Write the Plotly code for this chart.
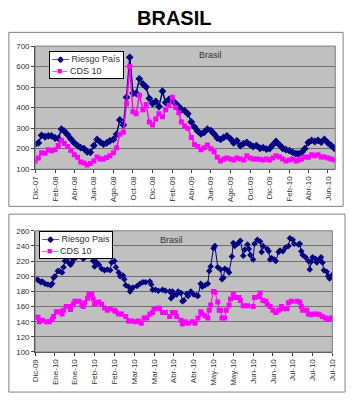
import plotly.graph_objects as go

# ---------------- data: top chart (Dic-07 .. Jun-10, three readings per month) ----------------
top_months = [(2007, 12)] + [(y, m) for y in (2008, 2009) for m in range(1, 13)] + [(2010, m) for m in range(1, 7)]
top_days = [1, 11, 21]
top_dates = [f"{y}-{m:02d}-{d:02d}" for (y, m) in top_months for d in top_days]

top_riesgo = [222, 228, 265, 258, 262, 262, 252, 250, 295, 285,
              268, 248, 228, 215, 205, 200, 185, 182, 215, 245,
              232, 222, 228, 238, 245, 270, 340, 315, 450, 645,
              470, 470, 540, 515, 500, 445, 420, 430, 405, 480,
              425, 440, 435, 420, 405, 390, 385, 370, 330, 305,
              285, 272, 280, 295, 288, 272, 252, 245, 255, 262,
              248, 228, 238, 215, 225, 230, 220, 210, 215, 202,
              205, 198, 200, 218, 235, 218, 202, 195, 190, 182,
              176, 175, 182, 200, 230, 240, 235, 240, 232, 245,
              228, 215, 202]
top_cds = [140, 155, 180, 178, 195, 190, 195, 215, 240, 225,
           210, 192, 170, 158, 135, 130, 120, 128, 140, 160,
           150, 150, 157, 165, 180, 205, 270, 280, 420, 600,
           380, 370, 460, 390, 415, 330, 315, 345, 370, 355,
           390, 410, 450, 400, 375, 330, 310, 300, 255, 220,
           210, 195, 205, 218, 200, 185, 158, 140, 150, 155,
           150, 145, 155, 150, 145, 165, 155, 150, 150, 148,
           145, 150, 145, 155, 165, 160, 150, 140, 145, 150,
           140, 145, 150, 160, 158, 170, 165, 170, 160, 160,
           155, 150, 145]

top_tickvals = ["2007-12-01", "2008-02-01", "2008-04-01", "2008-06-01", "2008-08-01", "2008-10-01",
                "2008-12-01", "2009-02-01", "2009-04-01", "2009-06-01", "2009-08-01", "2009-10-01",
                "2009-12-01", "2010-02-01", "2010-04-01", "2010-06-01"]
top_ticktext = ["Dic-07", "Feb-08", "Abr-08", "Jun-08", "Ago-08", "Oct-08", "Dic-08", "Feb-09",
                "Abr-09", "Jun-09", "Ago-09", "Oct-09", "Dic-09", "Feb-10", "Abr-10", "Jun-10"]

# ---------------- data: bottom chart (Dic-09 .. Jul-10) ----------------
bot_riesgo_dates = [
    "2009-12-31", "2010-01-02", "2010-01-04", "2010-01-05", "2010-01-07", "2010-01-09", "2010-01-11",
    "2010-01-12", "2010-01-13", "2010-01-14", "2010-01-16", "2010-01-17", "2010-01-19", "2010-01-20",
    "2010-01-21", "2010-01-23", "2010-01-25", "2010-01-26", "2010-01-27", "2010-01-29", "2010-01-31",
    "2010-02-03", "2010-02-05", "2010-02-07", "2010-02-10", "2010-02-11", "2010-02-12", "2010-02-14",
    "2010-02-16", "2010-02-18", "2010-02-20", "2010-02-22", "2010-02-23", "2010-02-25", "2010-02-26",
    "2010-02-28", "2010-03-01", "2010-03-03", "2010-03-04", "2010-03-05", "2010-03-07", "2010-03-08",
    "2010-03-09", "2010-03-10", "2010-03-13", "2010-03-15", "2010-03-17", "2010-03-19", "2010-03-22",
    "2010-03-23", "2010-03-24", "2010-03-26", "2010-03-28", "2010-03-31", "2010-04-02", "2010-04-05",
    "2010-04-06", "2010-04-07", "2010-04-08", "2010-04-10", "2010-04-11", "2010-04-13", "2010-04-14",
    "2010-04-15", "2010-04-17", "2010-04-18", "2010-04-20", "2010-04-22", "2010-04-24", "2010-04-25",
    "2010-04-27", "2010-04-28", "2010-04-30", "2010-05-02", "2010-05-03", "2010-05-04", "2010-05-06",
    "2010-05-07", "2010-05-09", "2010-05-11", "2010-05-12", "2010-05-13", "2010-05-14", "2010-05-16",
    "2010-05-17", "2010-05-19", "2010-05-20", "2010-05-21", "2010-05-23", "2010-05-25", "2010-05-27",
    "2010-05-28", "2010-05-30", "2010-05-31", "2010-06-01", "2010-06-03", "2010-06-04", "2010-06-06",
    "2010-06-08", "2010-06-09", "2010-06-10", "2010-06-13", "2010-06-14", "2010-06-15", "2010-06-16",
    "2010-06-18", "2010-06-19", "2010-06-21", "2010-06-22", "2010-06-24", "2010-06-26", "2010-06-28",
    "2010-06-29", "2010-07-01", "2010-07-02", "2010-07-05", "2010-07-06", "2010-07-07", "2010-07-08",
    "2010-07-10", "2010-07-12", "2010-07-13", "2010-07-14", "2010-07-15", "2010-07-17", "2010-07-18",
    "2010-07-20", "2010-07-21", "2010-07-22", "2010-07-23", "2010-07-25", "2010-07-26", "2010-07-27",
    "2010-07-29"]
bot_riesgo = [
    196, 195, 192, 193, 190, 189, 188,
    190, 198, 200, 207, 207, 205, 212,
    220, 219, 215, 218, 222, 225, 228,
    223, 228, 230, 220, 213, 219, 215,
    210, 208, 209, 208, 218, 220, 212,
    205, 200, 201, 196, 188, 186, 180,
    183, 185, 187, 190, 192, 192, 193,
    189, 182, 182, 181, 182, 181, 180,
    171, 180, 175, 176, 180, 178, 167,
    168, 177, 174, 180, 176, 175, 174,
    190, 186, 188, 190, 207, 213, 237,
    240, 212, 209, 196, 198, 210, 208,
    205, 226, 244, 240, 243, 247, 227,
    235, 242, 236, 228, 222, 243, 248,
    246, 232, 240, 236, 233, 222, 224,
    222, 220, 232, 234, 233, 238, 240,
    250, 248, 243, 242, 243, 233, 228,
    225, 220, 209, 219, 225, 223, 218,
    222, 225, 218, 208, 206, 200, 197,
    202]

bot_cds_dates = [
    "2009-12-31", "2010-01-02", "2010-01-03", "2010-01-05", "2010-01-08", "2010-01-10", "2010-01-12",
    "2010-01-13", "2010-01-15", "2010-01-18", "2010-01-19", "2010-01-20", "2010-01-22", "2010-01-24",
    "2010-01-25", "2010-01-27", "2010-01-28", "2010-01-31", "2010-02-02", "2010-02-03", "2010-02-04",
    "2010-02-06", "2010-02-07", "2010-02-09", "2010-02-10", "2010-02-11", "2010-02-12", "2010-02-14",
    "2010-02-16", "2010-02-18", "2010-02-20", "2010-02-22", "2010-02-25", "2010-02-26", "2010-02-28",
    "2010-03-02", "2010-03-05", "2010-03-07", "2010-03-09", "2010-03-12", "2010-03-14", "2010-03-16",
    "2010-03-18", "2010-03-20", "2010-03-22", "2010-03-24", "2010-03-25", "2010-03-28", "2010-03-29",
    "2010-03-31", "2010-04-02", "2010-04-05", "2010-04-07", "2010-04-09", "2010-04-10", "2010-04-13",
    "2010-04-14", "2010-04-16", "2010-04-18", "2010-04-21", "2010-04-23", "2010-04-25", "2010-04-27",
    "2010-04-28", "2010-04-30", "2010-05-02", "2010-05-03", "2010-05-04", "2010-05-06", "2010-05-07",
    "2010-05-09", "2010-05-10", "2010-05-11", "2010-05-12", "2010-05-14", "2010-05-15", "2010-05-17",
    "2010-05-18", "2010-05-20", "2010-05-21", "2010-05-24", "2010-05-25", "2010-05-27", "2010-05-30",
    "2010-06-03", "2010-06-04", "2010-06-07", "2010-06-08", "2010-06-10", "2010-06-12", "2010-06-13",
    "2010-06-15", "2010-06-17", "2010-06-19", "2010-06-21", "2010-06-23", "2010-06-24", "2010-06-27",
    "2010-06-28", "2010-06-30", "2010-07-04", "2010-07-06", "2010-07-07", "2010-07-08", "2010-07-11",
    "2010-07-12", "2010-07-14", "2010-07-16", "2010-07-18", "2010-07-20", "2010-07-22", "2010-07-24",
    "2010-07-26", "2010-07-28", "2010-07-29"]
bot_cds = [
    146, 146, 140, 142, 140, 140, 143,
    147, 153, 153, 150, 155, 160, 160,
    156, 163, 167, 167, 162, 160, 165,
    171, 176, 177, 170, 163, 165, 166,
    163, 158, 155, 157, 155, 153, 150,
    150, 147, 141, 141, 140, 141, 138,
    145, 145, 150, 152, 157, 158, 157,
    152, 152, 147, 152, 152, 147, 142,
    137, 140, 138, 140, 138, 145, 153,
    150, 148, 145, 155, 162, 180, 179,
    166, 155, 155, 145, 145, 155, 162,
    170, 177, 172, 172, 168, 161, 161,
    160, 172, 173, 178, 168, 167, 163,
    160, 155, 152, 155, 160, 157, 157,
    165, 167, 167, 166, 160, 155, 155,
    150, 149, 150, 150, 149, 147, 145,
    143, 145, 145]

bot_tickvals = ["2009-12-31", "2010-01-14", "2010-01-28", "2010-02-11", "2010-02-25", "2010-03-11",
                "2010-03-25", "2010-04-08", "2010-04-22", "2010-05-06", "2010-05-20", "2010-06-03",
                "2010-06-17", "2010-07-01", "2010-07-15", "2010-07-29"]
bot_ticktext = ["Dic-09", "Ene-10", "Ene-10", "Feb-10", "Feb-10", "Mar-10", "Mar-10", "Abr-10",
                "Abr-10", "May-10", "May-10", "Jun-10", "Jun-10", "Jul-10", "Jul-10", "Jul-10"]

series_names = ["Riesgo País", "CDS 10"]
series_names_bottom = ["Riesgo Pais", "CDS 10"]

# ---------------- styling ----------------
NAVY = "#000080"
MAGENTA = "#FF00FF"
FONT = "Liberation Sans, Arial, sans-serif"
W, H = 352, 400

fig = go.Figure()

fig.add_trace(go.Scatter(x=top_dates, y=top_riesgo, name=series_names[0], mode="lines+markers",
                         line=dict(color=NAVY, width=1.5), marker=dict(symbol="diamond", size=6, color=NAVY),
                         xaxis="x", yaxis="y"))
fig.add_trace(go.Scatter(x=top_dates, y=top_cds, name=series_names[1], mode="lines+markers",
                         line=dict(color=MAGENTA, width=1.5), marker=dict(symbol="square", size=5, color=MAGENTA),
                         xaxis="x", yaxis="y"))
fig.add_trace(go.Scatter(x=bot_riesgo_dates, y=bot_riesgo, name=series_names_bottom[0], mode="lines+markers",
                         line=dict(color=NAVY, width=1), marker=dict(symbol="diamond", size=5, color=NAVY),
                         xaxis="x2", yaxis="y2"))
fig.add_trace(go.Scatter(x=bot_cds_dates, y=bot_cds, name=series_names_bottom[1], mode="lines+markers",
                         line=dict(color=MAGENTA, width=1), marker=dict(symbol="square", size=5, color=MAGENTA),
                         xaxis="x2", yaxis="y2"))

axis_common = dict(showline=True, linecolor="#404040", linewidth=1, ticks="outside", ticklen=3,
                   tickcolor="#404040", tickfont=dict(family=FONT, size=8, color="#333333"), zeroline=False)

fig.update_layout(
    width=W, height=H, margin=dict(l=0, r=0, t=0, b=0),
    paper_bgcolor="white", plot_bgcolor="#C0C0C0",
    font=dict(family=FONT, size=8, color="#333333"),
    showlegend=False,
    xaxis=dict(domain=[32 / W, 340 / W], anchor="y", type="date",
               range=["2007-12-01", "2010-06-24"], tickvals=top_tickvals, ticktext=top_ticktext,
               tickangle=-90, showgrid=False, **axis_common),
    yaxis=dict(domain=[1 - 169 / H, 1 - 43 / H], anchor="x", range=[100, 700], dtick=100,
               showgrid=True, gridcolor="#707070", gridwidth=1, **axis_common),
    xaxis2=dict(domain=[32 / W, 337 / W], anchor="y2", type="date",
                range=["2009-12-31", "2010-07-29"], tickvals=bot_tickvals, ticktext=bot_ticktext,
                tickangle=-90, showgrid=False, **axis_common),
    yaxis2=dict(domain=[1 - 356 / H, 1 - 232 / H], anchor="x2", range=[100, 260], dtick=20,
                showgrid=True, gridcolor="#707070", gridwidth=1, **axis_common),
)

shapes = [
    # outer chart frames
    dict(type="rect", xref="paper", yref="paper", x0=5 / W, x1=348 / W, y0=1 - 207 / H, y1=1 - 29 / H,
         line=dict(color="#808080", width=1)),
    dict(type="rect", xref="paper", yref="paper", x0=5 / W, x1=350 / W, y0=1 - 397 / H, y1=1 - 215 / H,
         line=dict(color="#808080", width=1)),
    # plot-area borders
    dict(type="rect", xref="x domain", yref="y domain", x0=0, x1=1, y0=0, y1=1,
         line=dict(color="#808080", width=1)),
    dict(type="rect", xref="x2 domain", yref="y2 domain", x0=0, x1=1, y0=0, y1=1,
         line=dict(color="#808080", width=1)),
]
fig.update_layout(shapes=shapes)


def legend_text(names):
    return (f"<span style='color:{NAVY}'>–◆–</span> {names[0]}<br>"
            f"<span style='color:{MAGENTA}'>–■–</span> {names[1]}")


fig.add_annotation(text=legend_text(series_names), xref="paper", yref="paper", x=46 / W, y=1 - 48 / H,
                   xanchor="left", yanchor="top", align="left", showarrow=False,
                   bgcolor="white", bordercolor="black", borderwidth=1, borderpad=2,
                   font=dict(family=FONT, size=9, color="#333333"))
fig.add_annotation(text=legend_text(series_names_bottom), xref="paper", yref="paper", x=36 / W, y=1 - 232 / H,
                   xanchor="left", yanchor="top", align="left", showarrow=False,
                   bgcolor="white", bordercolor="black", borderwidth=1, borderpad=2,
                   font=dict(family=FONT, size=9, color="#333333"))

fig.add_annotation(text="<b>BRASIL</b>", xref="paper", yref="paper", x=174 / W, y=1 - 14 / H,
                   showarrow=False, font=dict(family=FONT, size=20, color="black"),
                   xanchor="center", yanchor="middle")
fig.add_annotation(text="Brasil", xref="paper", yref="paper", x=212 / W, y=1 - 52 / H,
                   showarrow=False, font=dict(family=FONT, size=9, color="#333333"),
                   xanchor="center", yanchor="middle")
fig.add_annotation(text="Brasil", xref="paper", yref="paper", x=172 / W, y=1 - 241 / H,
                   showarrow=False, font=dict(family=FONT, size=9, color="#333333"),
                   xanchor="center", yanchor="middle")

fig.write_html("out.html")
